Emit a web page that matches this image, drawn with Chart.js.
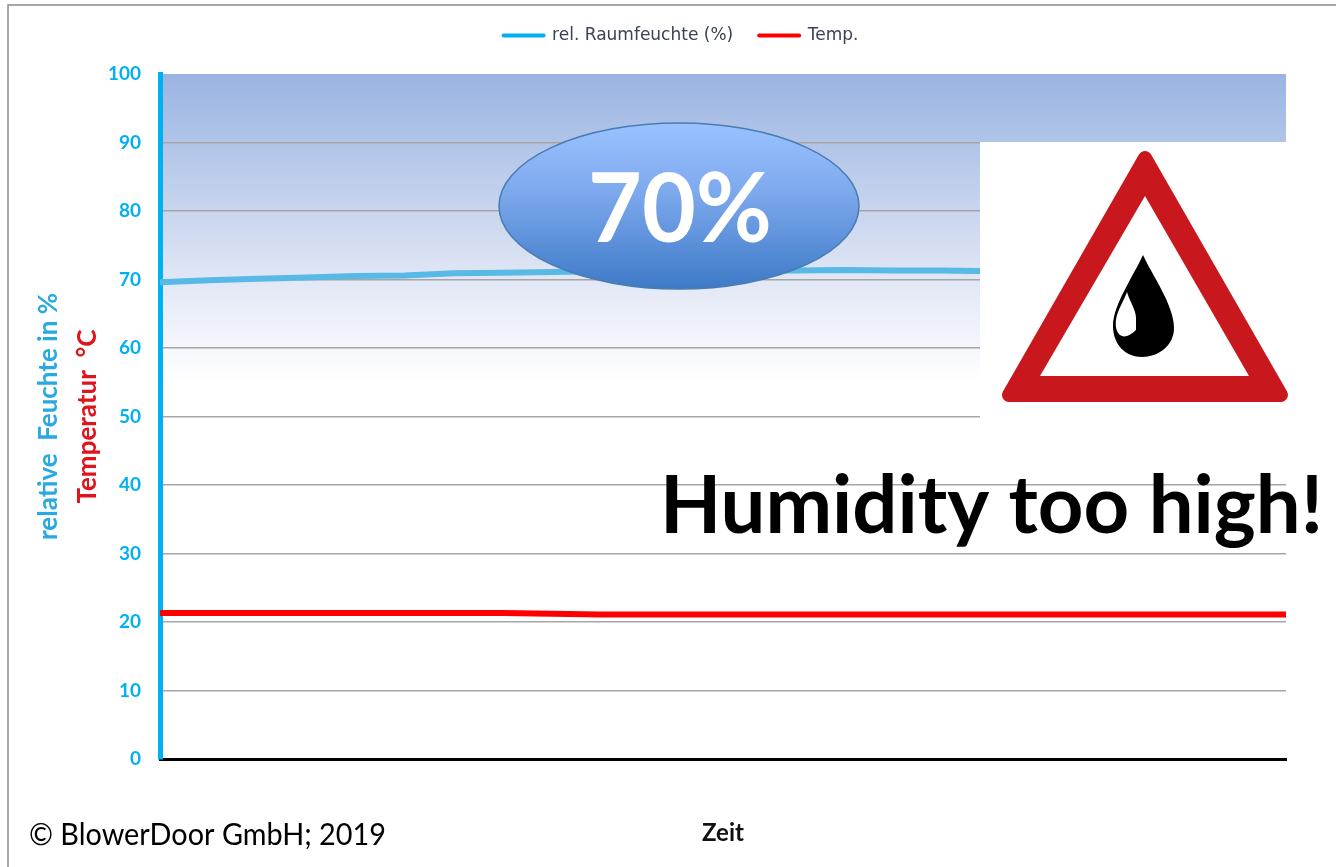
<!DOCTYPE html>
<html>
<head>
<meta charset="utf-8">
<title>Raumfeuchte</title>
<script src="https://cdn.jsdelivr.net/npm/chart.js@4/dist/chart.umd.min.js"></script>
<style>
  html, body { margin: 0; background: #fff; overflow: hidden; }
  canvas { display: block; }
</style>
</head>
<body>
<canvas id="chart" width="1336" height="867"></canvas>
<script>
const hours = ["0", "1", "2", "3", "4", "5", "6", "7", "8", "9", "10", "11", "12", "13", "14", "15", "16", "17", "18", "19", "20", "21", "22", "23"];
const humidity = [69.6, 69.9, 70.1, 70.3, 70.5, 70.6, 70.9, 71.0, 71.1, 71.2, 71.2, 71.2, 71.3, 71.3, 71.4, 71.3, 71.3, 71.2, 71.2, 71.2, 71.2, 71.2, 71.2, 71.2];
const temperature = [21.3, 21.3, 21.3, 21.3, 21.3, 21.3, 21.3, 21.3, 21.2, 21.1, 21.1, 21.1, 21.1, 21.1, 21.1, 21.1, 21.1, 21.1, 21.1, 21.1, 21.1, 21.1, 21.1, 21.1];

const CYAN = "#00B0F0";
const RED = "#FF0000";

// gradient behind the plot, grey frame of the slide
const backdrop = {
  id: "backdrop",
  beforeDraw(chart) {
    const { ctx, chartArea: a } = chart;
    ctx.save();
    ctx.strokeStyle = "#8A8A8A";
    ctx.lineWidth = 1.5;
    ctx.beginPath();
    ctx.moveTo(8, 867);
    ctx.lineTo(8, 5);
    ctx.lineTo(1336, 5);
    ctx.stroke();

    const g = ctx.createLinearGradient(0, a.top, 0, a.bottom);
    g.addColorStop(0, "#9AB4E2");
    g.addColorStop(0.2, "#C8D5EE");
    g.addColorStop(0.3, "#E1E7F5");
    g.addColorStop(0.4, "#F5F7FC");
    g.addColorStop(0.45, "#FFFFFF");
    ctx.fillStyle = g;
    ctx.fillRect(a.left, a.top, a.right - a.left, a.bottom - a.top);
    ctx.restore();
  },
};

// things pasted over the chart on the slide
const overlay = {
  id: "overlay",
  afterDraw(chart) {
    const { ctx } = chart;
    ctx.save();

    // white box behind the warning sign
    ctx.fillStyle = "#FFFFFF";
    ctx.fillRect(980, 142, 320, 278);

    // warning triangle
    ctx.fillStyle = "#C9171E";
    ctx.strokeStyle = "#C9171E";
    ctx.lineWidth = 14;
    ctx.lineJoin = "round";
    ctx.beginPath();
    ctx.moveTo(1145, 158);
    ctx.lineTo(1281, 395);
    ctx.lineTo(1009, 395);
    ctx.closePath();
    ctx.fill();
    ctx.stroke();
    ctx.fillStyle = "#FFFFFF";
    ctx.beginPath();
    ctx.moveTo(1145, 196);
    ctx.lineTo(1249, 376);
    ctx.lineTo(1040, 376);
    ctx.closePath();
    ctx.fill();

    // drop
    ctx.fillStyle = "#000000";
    ctx.beginPath();
    ctx.moveTo(1143, 255);
    ctx.bezierCurveTo(1152, 275, 1174, 305, 1174, 328);
    ctx.bezierCurveTo(1174, 346, 1158, 357, 1142, 357);
    ctx.bezierCurveTo(1126, 357, 1113, 345, 1113, 326);
    ctx.bezierCurveTo(1113, 305, 1134, 275, 1143, 255);
    ctx.fill();
    ctx.fillStyle = "#FFFFFF";
    ctx.beginPath();
    ctx.moveTo(1127, 292);
    ctx.bezierCurveTo(1130, 302, 1136, 310, 1136, 318);
    ctx.lineTo(1136, 330);
    ctx.bezierCurveTo(1130, 336, 1124, 338, 1120, 335);
    ctx.bezierCurveTo(1115, 331, 1115, 322, 1117, 315);
    ctx.bezierCurveTo(1120, 306, 1124, 300, 1127, 292);
    ctx.fill();

    // 70% bubble
    const bubble = ctx.createLinearGradient(0, 123, 0, 289);
    bubble.addColorStop(0, "#9AC2FF");
    bubble.addColorStop(0.4, "#7FAAEE");
    bubble.addColorStop(1, "#3D7AC7");
    ctx.fillStyle = bubble;
    ctx.strokeStyle = "#4A7BB3";
    ctx.lineWidth = 1.5;
    ctx.beginPath();
    ctx.ellipse(679, 206, 180, 83, 0, 0, Math.PI * 2);
    ctx.fill();
    ctx.stroke();

    ctx.textBaseline = "alphabetic";
    ctx.textAlign = "left";
    ctx.fillStyle = "#FFFFFF";
    ctx.font = "bold 96px Lato";
    ctx.fillText("70%", 588, 242, 184);

    ctx.fillStyle = "#000000";
    ctx.font = "bold 80px Lato";
    ctx.fillText("Humidity too high!", 660, 533, 663);

    ctx.font = "30px Lato";
    ctx.fillText("© BlowerDoor GmbH; 2019", 29, 845, 357);
    ctx.restore();
  },
};

new Chart(document.getElementById("chart"), {
  type: "line",
  data: {
    labels: hours,
    datasets: [
      {
        label: "rel. Raumfeuchte (%)",
        data: humidity,
        borderColor: "#58B9E6",
        borderWidth: 6,
        pointRadius: 0,
        tension: 0,
        yAxisID: "y",
      },
      {
        label: "Temp.",
        data: temperature,
        borderColor: RED,
        borderWidth: 6,
        pointRadius: 0,
        tension: 0,
        yAxisID: "y",
      },
    ],
  },
  plugins: [backdrop, overlay],
  options: {
    responsive: false,
    animation: false,
    layout: { padding: { top: 1, left: 26, right: 0, bottom: 0 } },
    scales: {
      x: {
        offset: false,
        grid: { display: false, drawTicks: false },
        border: { color: "#000000", width: 3 },
        ticks: { display: false },
        title: {
          display: true,
          text: "Zeit",
          color: "#111111",
          font: { family: "Lato", weight: "bold", size: 24 },
          padding: { top: 0, bottom: 19 },
        },
        afterFit(scale) {
          scale.height = 108;
        },
      },
      yTitle: {
        position: "left",
        weight: 2,
        min: 0,
        max: 100,
        grid: { display: false, drawTicks: false },
        border: { display: false },
        ticks: { display: false },
        title: {
          display: true,
          text: "relative  Feuchte in %",
          color: "#2AA9E0",
          font: { family: "Lato", weight: "bold", size: 26 },
          padding: { top: 7, bottom: 0 },
        },
        afterFit(scale) {
          scale.width = 46;
        },
      },
      y: {
        position: "left",
        weight: 1,
        min: 0,
        max: 100,
        grid: {
          drawTicks: false,
          color: (c) => (c.tick.value === 0 || c.tick.value === 100 ? "rgba(0,0,0,0)" : "#A6A6A6"),
          lineWidth: 1.5,
        },
        border: { color: CYAN, width: 5 },
        ticks: {
          stepSize: 10,
          color: CYAN,
          padding: 19,
          font: { family: "Lato", weight: "bold", size: 19 },
        },
        title: {
          display: true,
          text: "Temperatur  °C",
          color: "#E0141C",
          font: { family: "Lato", weight: "bold", size: 26 },
          padding: { top: 0, bottom: 0 },
        },
        afterFit(scale) {
          scale.width = 88;
        },
      },
      // empty axis that only keeps the plot clear of the right edge
      yEdge: {
        position: "right",
        min: 0,
        max: 100,
        grid: { display: false, drawTicks: false },
        border: { display: false },
        ticks: { display: false },
        afterFit(scale) {
          scale.width = 50;
        },
      },
    },
    plugins: {
      tooltip: { enabled: false },
      // empty subtitle below the legend, only there as a spacer
      subtitle: {
        display: true,
        text: "",
        weight: 500,
        font: { size: 10 },
        padding: { top: 4, bottom: 4 },
      },
      legend: {
        position: "top",
        labels: {
          usePointStyle: true,
          pointStyle: "line",
          pointStyleWidth: 40,
          padding: 26,
          color: "#3A4254",
          font: { family: "DejaVu Sans", size: 17 },
          generateLabels(chart) {
            const items = Chart.defaults.plugins.legend.labels.generateLabels(chart);
            items[0].strokeStyle = CYAN;
            items.forEach((item) => {
              item.lineWidth = 4;
              item.lineCap = "round";
            });
            return items;
          },
        },
      },
    },
  },
});
</script>
</body>
</html>
